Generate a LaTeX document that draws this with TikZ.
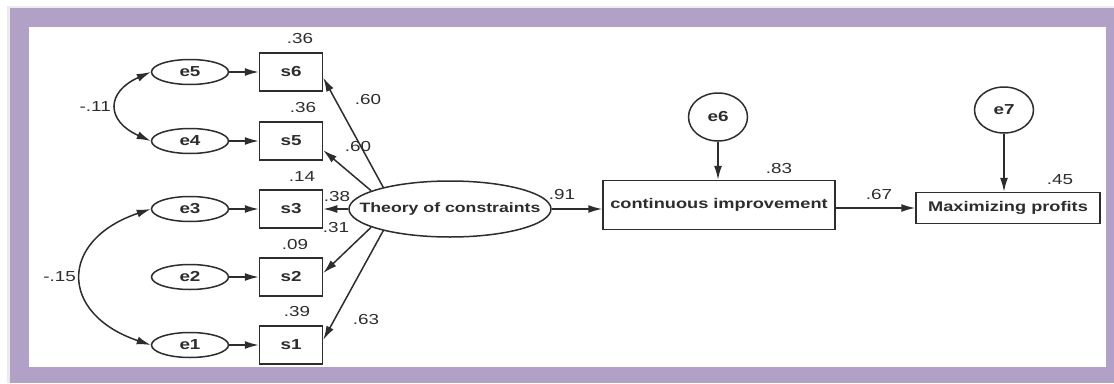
\documentclass[tikz,border=0pt]{standalone}
\usepackage{fontspec}
\usetikzlibrary{arrows.meta,shapes.geometric}
\newfontfamily\diagfont[FakeStretch=1.3]{Liberation Sans}
\definecolor{framepurple}{RGB}{178,161,199}
\definecolor{inkgray}{RGB}{45,45,45}

\begin{document}
\begin{tikzpicture}[x=1pt,y=-1pt,
  nodetext/.style={font={\diagfont\bfseries\fontsize{14.5}{16}\selectfont}, text=inkgray},
  errvar/.style={ellipse, draw=inkgray, line width=1.5pt, inner sep=0pt,
    minimum width=77pt, minimum height=25pt, nodetext},
  obsbox/.style={rectangle, draw=inkgray, line width=1.5pt, inner sep=0pt,
    minimum width=63pt, minimum height=38pt, nodetext},
  link/.style={draw=inkgray, line width=1.5pt, -{Latex[length=14pt,width=8pt]}},
  cov/.style={draw=inkgray, line width=1.5pt,
    {Latex[length=14pt,width=8pt]}-{Latex[length=14pt,width=8pt]}},
  coef/.style={font={\diagfont\fontsize{14.5}{16}\selectfont}, text=inkgray, inner sep=0pt}]

% frame
\useasboundingbox (0,0) rectangle (1114,383);
\fill[white] (0,0) rectangle (1114,383);
\fill[black!8] (7,6) rectangle (1114,383);
\fill[framepurple] (10,8) rectangle (1114,383);
\fill[white] (29,27) rectangle (1106,367);

% error terms and indicators
\foreach \k/\y in {5/72,4/141,3/209,2/277,1/345}
  \node[errvar] (e\k) at (190,\y) {e\k};
\foreach \k/\y in {6/72,5/141,3/209,2/277,1/345}
  \node[obsbox] (s\k) at (291,\y) {s\k};

\draw[link] (e5.east) -- (s6.west);
\draw[link] (e4.east) -- (s5.west);
\draw[link] (e3.east) -- (s3.west);
\draw[link] (e2.east) -- (s2.west);
\draw[link] (e1.east) -- (s1.west);

% covariances
\draw[cov] (e5.west) .. controls +(-45,20) and +(-45,-20) .. (e4.west);
\draw[cov] (e3.west) .. controls +(-92,31) and +(-92,-31) .. (e1.west);
\node[coef, anchor=east] (c11) at (111,107) {-.11};
\node[coef, anchor=east] (c15) at (76,277) {-.15};

% latent construct
\node[ellipse, draw=inkgray, line width=1.5pt, inner ysep=0pt, inner xsep=-24pt,
  minimum width=202pt, minimum height=56pt, nodetext,
  font={\diagfont\bfseries\fontsize{13.6}{16}\selectfont}] (toc) at (450,209) {Theory of constraints};

\draw[link] (toc.162) -- (s6.-10);
\draw[link] (toc.167) -- (s5.-16);
\draw[link] (toc.west) -- (s3.east);
\draw[link] (toc.193) -- (s2.7);
\draw[link] (toc.198) -- (s1.9);

% outcome variables
\node[rectangle, draw=inkgray, line width=1.5pt, inner sep=0pt,
  minimum width=232pt, minimum height=49pt, nodetext,
  font={\diagfont\bfseries\fontsize{14}{16}\selectfont}] (ci) at (719,205) {continuous improvement};
\node[rectangle, draw=inkgray, line width=1.5pt, inner sep=0pt,
  minimum width=184pt, minimum height=31pt, nodetext,
  font={\diagfont\bfseries\fontsize{14}{16}\selectfont}] (mp) at (1008,208) {Maximizing profits};
\node[ellipse, draw=inkgray, line width=1.5pt, inner sep=0pt,
  minimum width=59pt, minimum height=48pt, nodetext] (e6) at (718,117) {e6};
\node[ellipse, draw=inkgray, line width=1.5pt, inner sep=0pt,
  minimum width=59pt, minimum height=46pt, nodetext] (e7) at (1004,110) {e7};

\draw[link] (toc.east) -- (toc.east -| ci.west);
\draw[link] (ci.east |- mp.west) -- (mp.west);
\draw[link] (e6.south) -- (e6.south |- ci.north);
\draw[link] (e7.south) -- (e7.south |- mp.north);

% coefficients
\node[coef] (r6) at (300,39) {.36};
\node[coef] (r5) at (303,108) {.36};
\node[coef] (r3) at (302,177) {.14};
\node[coef] (r2) at (295,245) {.09};
\node[coef] (r1) at (297,312) {.39};
\node[coef] (l6) at (368,100) {.60};
\node[coef] (l5) at (358,147) {.60};
\node[coef] (l3) at (337,197) {.38};
\node[coef] (l2) at (336,228) {.31};
\node[coef] (l1) at (366,320) {.63};
\node[coef] (g1) at (562,195) {.91};
\node[coef] (rci) at (779,169) {.83};
\node[coef] (g2) at (879,195) {.67};
\node[coef] (rmp) at (1060,180) {.45};
\end{tikzpicture}
\end{document}
